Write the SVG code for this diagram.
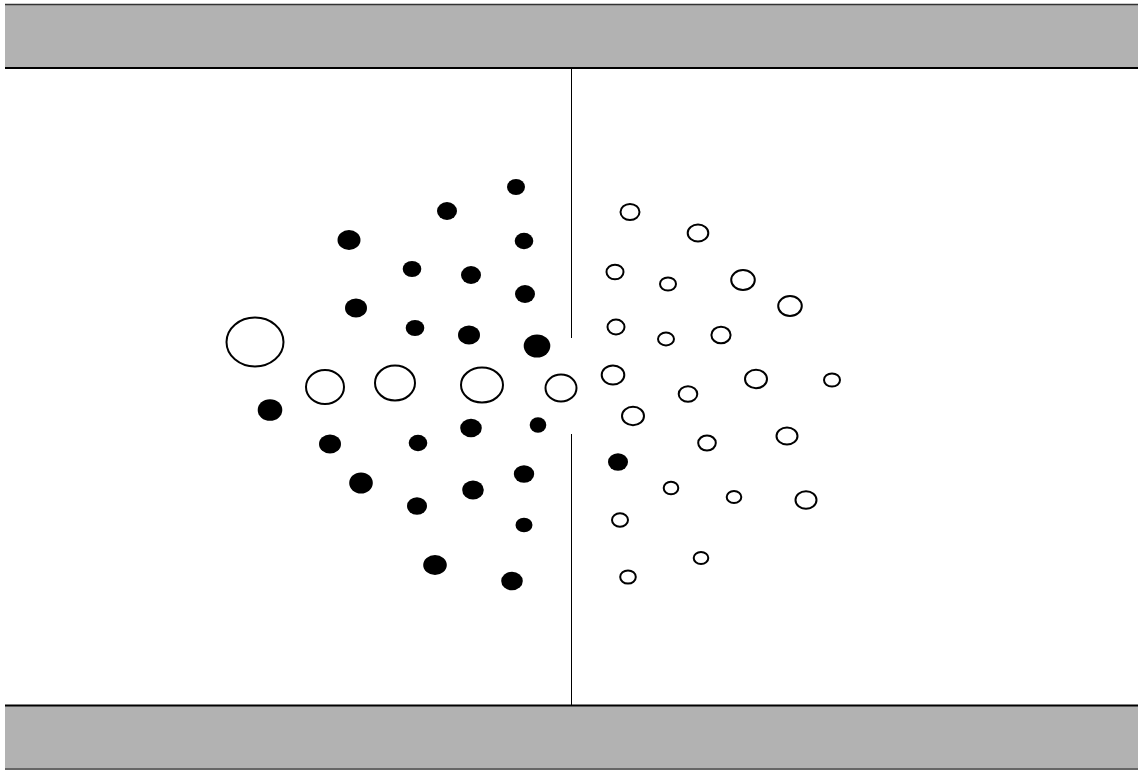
<svg xmlns="http://www.w3.org/2000/svg" width="1138" height="770" viewBox="0 0 1138 770">
<style>
.band{fill:#b2b2b2}
.f{fill:#000}
.o{fill:#fff;stroke:#000;stroke-width:2}
</style>
<rect width="1138" height="770" fill="#fff"/>
<g id="top-band">
<rect class="band" x="5" y="4" width="1133" height="64"/>
<line x1="5" y1="4.5" x2="1138" y2="4.5" stroke="#333" stroke-width="1.5"/>
<line x1="5" y1="68" x2="1138" y2="68" stroke="#000" stroke-width="2"/>
</g>
<g id="bottom-band">
<rect class="band" x="5" y="706" width="1133" height="63"/>
<line x1="5" y1="705.5" x2="1138" y2="705.5" stroke="#000" stroke-width="2"/>
<line x1="5" y1="769" x2="1138" y2="769" stroke="#666" stroke-width="2"/>
</g>
<g id="divider" stroke="#000" stroke-width="1">
<line x1="571.5" y1="68" x2="571.5" y2="338"/>
<line x1="571.5" y1="434" x2="571.5" y2="705"/>
</g>
<g id="left-filled">
<ellipse class="f" cx="516" cy="187" rx="9" ry="8"/>
<ellipse class="f" cx="447" cy="211" rx="10" ry="9"/>
<ellipse class="f" cx="349" cy="240" rx="11.5" ry="10"/>
<ellipse class="f" cx="524" cy="241" rx="9.3" ry="8.3"/>
<ellipse class="f" cx="412" cy="269" rx="9.3" ry="8"/>
<ellipse class="f" cx="471" cy="275" rx="10" ry="9"/>
<ellipse class="f" cx="525" cy="294" rx="10" ry="9"/>
<ellipse class="f" cx="356" cy="308" rx="11" ry="9.5"/>
<ellipse class="f" cx="415" cy="328" rx="9.3" ry="8"/>
<ellipse class="f" cx="469" cy="335" rx="11" ry="9.5"/>
<ellipse class="f" cx="537" cy="346" rx="13.3" ry="11.5"/>
<ellipse class="f" cx="270" cy="410" rx="12.3" ry="10.8"/>
<ellipse class="f" cx="538" cy="425" rx="8.3" ry="7.8"/>
<ellipse class="f" cx="471" cy="428" rx="10.8" ry="9.3"/>
<ellipse class="f" cx="330" cy="444" rx="11" ry="9.5"/>
<ellipse class="f" cx="418" cy="443" rx="9.3" ry="8.2"/>
<ellipse class="f" cx="361" cy="483" rx="11.8" ry="10.5"/>
<ellipse class="f" cx="524" cy="474" rx="10.2" ry="8.8"/>
<ellipse class="f" cx="473" cy="490" rx="10.8" ry="9.5"/>
<ellipse class="f" cx="417" cy="506" rx="10" ry="8.8"/>
<ellipse class="f" cx="524" cy="525" rx="8.5" ry="7.3"/>
<ellipse class="f" cx="435" cy="565" rx="11.8" ry="10"/>
<ellipse class="f" cx="512" cy="581" rx="10.8" ry="9.3"/>
</g>
<g id="left-open">
<ellipse class="o" cx="255" cy="342" rx="28.5" ry="24.5"/>
<ellipse class="o" cx="325" cy="387" rx="19" ry="17"/>
<ellipse class="o" cx="395" cy="383" rx="20" ry="17.5"/>
<ellipse class="o" cx="482" cy="385" rx="21" ry="17.5"/>
<ellipse class="o" cx="561" cy="388" rx="15.5" ry="13.5"/>
</g>
<g id="right-particles">
<ellipse class="o" cx="630" cy="212" rx="9.5" ry="8"/>
<ellipse class="o" cx="698" cy="233" rx="10.3" ry="8.5"/>
<ellipse class="o" cx="615" cy="272" rx="8.5" ry="7.3"/>
<ellipse class="o" cx="668" cy="284" rx="8" ry="6.6"/>
<ellipse class="o" cx="743" cy="280" rx="11.8" ry="10"/>
<ellipse class="o" cx="790" cy="306" rx="11.8" ry="10"/>
<ellipse class="o" cx="616" cy="327" rx="8.5" ry="7.5"/>
<ellipse class="o" cx="666" cy="339" rx="8" ry="6.5"/>
<ellipse class="o" cx="721" cy="335" rx="9.6" ry="8.3"/>
<ellipse class="o" cx="613" cy="375" rx="11.3" ry="9.5"/>
<ellipse class="o" cx="688" cy="394" rx="9.3" ry="7.8"/>
<ellipse class="o" cx="756" cy="379" rx="11" ry="9.3"/>
<ellipse class="o" cx="832" cy="380" rx="8" ry="6.6"/>
<ellipse class="o" cx="633" cy="416" rx="11" ry="9.3"/>
<ellipse class="o" cx="707" cy="443" rx="8.8" ry="7.6"/>
<ellipse class="o" cx="787" cy="436" rx="10.5" ry="8.6"/>
<ellipse class="f" cx="618" cy="462" rx="10" ry="8.8"/>
<ellipse class="o" cx="671" cy="488" rx="7.3" ry="6.3"/>
<ellipse class="o" cx="734" cy="497" rx="7.3" ry="6.1"/>
<ellipse class="o" cx="806" cy="500" rx="10.5" ry="8.8"/>
<ellipse class="o" cx="620" cy="520" rx="8" ry="6.8"/>
<ellipse class="o" cx="701" cy="558" rx="7.3" ry="6"/>
<ellipse class="o" cx="628" cy="577" rx="7.8" ry="6.6"/>
</g>
</svg>
